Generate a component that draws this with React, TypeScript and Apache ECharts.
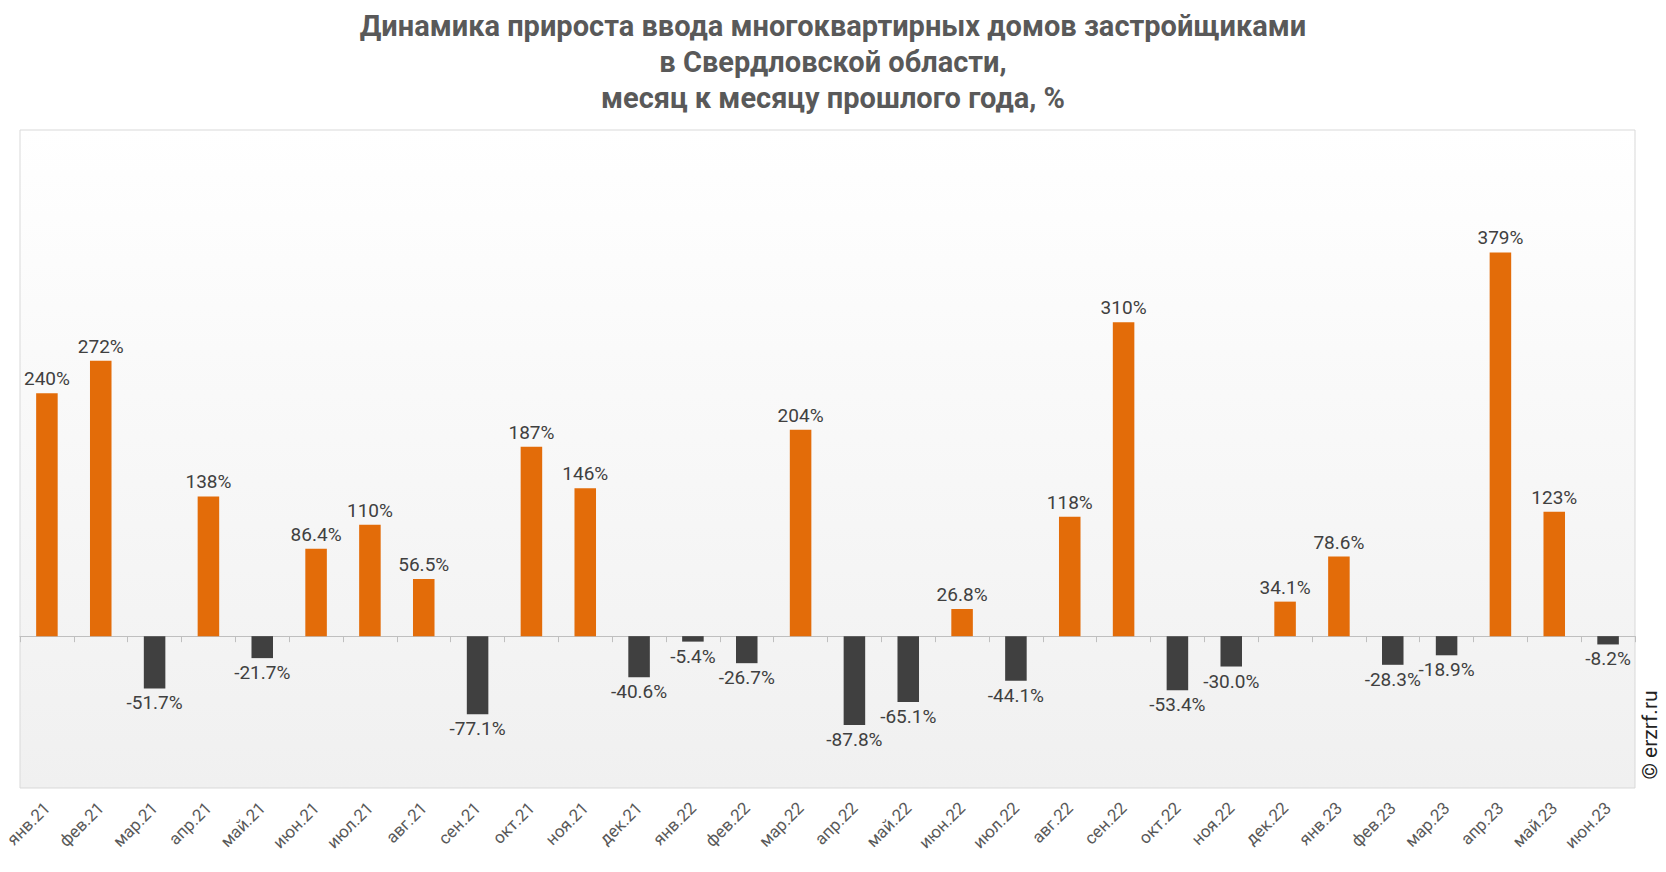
import React, { useEffect, useRef } from "react";
import * as echarts from "echarts";

const categories: string[] = [
  "янв.21", "фев.21", "мар.21", "апр.21", "май.21", "июн.21", "июл.21", "авг.21", "сен.21", "окт.21",
  "ноя.21", "дек.21", "янв.22", "фев.22", "мар.22", "апр.22", "май.22", "июн.22", "июл.22", "авг.22",
  "сен.22", "окт.22", "ноя.22", "дек.22", "янв.23", "фев.23", "мар.23", "апр.23", "май.23", "июн.23",
];

const growth: number[] = [
  240, 272, -51.7, 138, -21.7, 86.4, 110, 56.5, -77.1, 187,
  146, -40.6, -5.4, -26.7, 204, -87.8, -65.1, 26.8, -44.1, 118,
  310, -53.4, -30.0, 34.1, 78.6, -28.3, -18.9, 379, 123, -8.2,
];

const yMin = -150;
const yMax = 500;

const titleText = "Динамика прироста ввода многоквартирных домов застройщиками\nв Свердловской области,\nмесяц к месяцу прошлого года, %";
const watermark = "© erzrf.ru";

const ORANGE = "#E36C09";
const DARK = "#404040";

function fmt(v: number): string {
  if (Math.abs(v) >= 100) return Math.round(v) + "%";
  return v.toFixed(1) + "%";
}

export default function App() {
  const ref = useRef<HTMLDivElement>(null);
  useEffect(() => {
    if (!ref.current) return;
    const chart = echarts.init(ref.current, null, { renderer: "svg" });
    const data = growth.map((v) => ({
      value: v,
      itemStyle: { color: v >= 0 ? ORANGE : DARK },
      label: { position: v >= 0 ? "top" : "bottom" },
    }));
    chart.setOption({
      animation: false,
      backgroundColor: "#ffffff",
      grid: {
        left: 20,
        right: 31,
        top: 130,
        bottom: 84,
        show: true,
        borderColor: "#d9d9d9",
        borderWidth: 1,
        backgroundColor: new echarts.graphic.LinearGradient(0, 0, 0, 1, [
          { offset: 0, color: "#ffffff" },
          { offset: 1, color: "#f0f0f0" },
        ]),
      },
      xAxis: [
        {
          type: "category",
          data: categories,
          axisLine: { onZero: true, lineStyle: { color: "#bfbfbf", width: 1 } },
          axisTick: { show: true, length: 6, lineStyle: { color: "#bfbfbf" } },
          axisLabel: { show: false },
        },
        {
          type: "category",
          data: categories,
          position: "bottom",
          axisLine: { show: false, onZero: false },
          axisTick: { show: false },
          axisLabel: {
            show: true,
            rotate: 45,
            interval: 0,
            margin: 17,
            fontFamily: "Roboto, sans-serif",
            fontSize: 17,
            color: "#595959",
          },
        },
      ],
      yAxis: {
        type: "value",
        min: yMin,
        max: yMax,
        show: false,
        splitLine: { show: false },
      },
      series: [
        {
          type: "bar",
          xAxisIndex: 0,
          data,
          barWidth: "40%",
          label: {
            show: true,
            distance: 5,
            fontFamily: "Roboto, sans-serif",
            fontSize: 19,
            color: "#404040",
            formatter: (p: any) => fmt(p.value),
          },
        },
      ],
      graphic: [
        {
          type: "text",
          x: 833,
          y: 8,
          style: {
            text: titleText,
            fontFamily: "Roboto, sans-serif",
            fontWeight: "bold",
            fontSize: 29,
            lineHeight: 36,
            fill: "#595959",
            textAlign: "center",
            textVerticalAlign: "top",
          },
        },
        {
          type: "text",
          x: 1650,
          y: 735,
          rotation: Math.PI / 2,
          style: {
            text: watermark,
            fontFamily: "Roboto, sans-serif",
            fontSize: 21,
            fill: "#222222",
            textAlign: "center",
            textVerticalAlign: "middle",
          },
        },
      ],
    });
    return () => chart.dispose();
  }, []);
  return (
    <div
      ref={ref}
      style={{ position: "fixed", left: 0, top: 0, width: 1666, height: 872 }}
    />
  );
}
